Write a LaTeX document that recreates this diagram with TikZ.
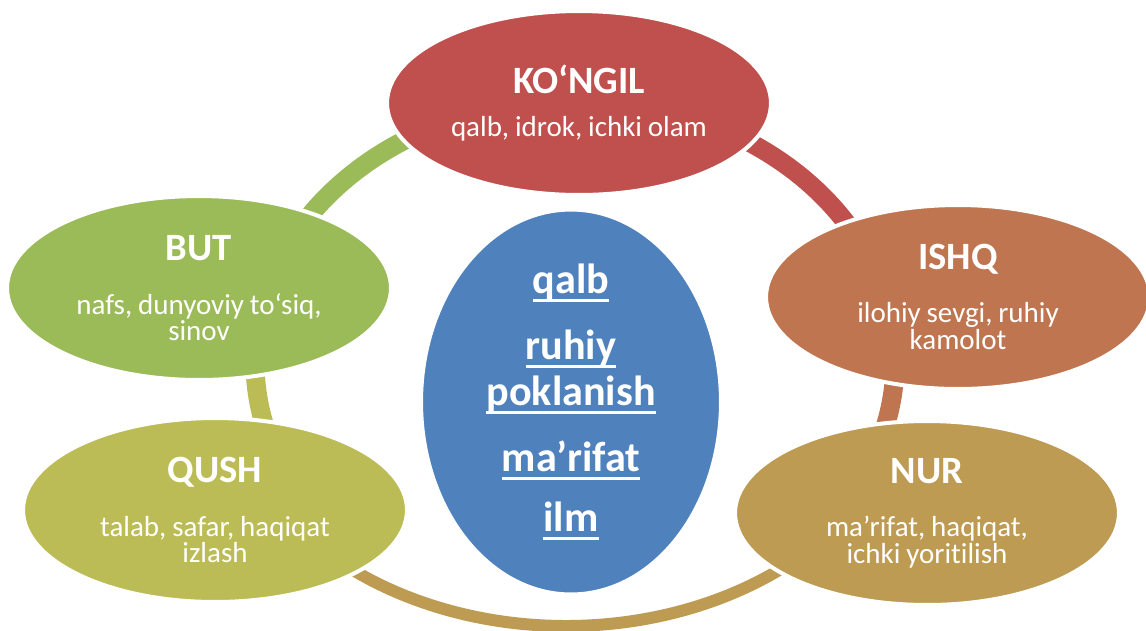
\documentclass[tikz,border=0pt]{standalone}
\usepackage{fontspec}
\setmainfont{Carlito}[Ligatures=NoCommon]
\usetikzlibrary{shapes.geometric}
\definecolor{cKong}{HTML}{C0504D}
\definecolor{cIshq}{HTML}{BF7650}
\definecolor{cNur}{HTML}{BD9B53}
\definecolor{cQush}{HTML}{BCBC56}
\definecolor{cBut}{HTML}{9BBB59}
\definecolor{cMid}{HTML}{4F81BD}
\newcommand\ttl{\fontsize{22}{26}\selectfont\bfseries}
\newcommand\sbt{\fontsize{16.5}{18.5}\selectfont\mdseries}
\newcommand\myul[1]{\leavevmode\setbox0=\hbox{#1}\rlap{\rule[-0.2em]{\wd0}{0.07em}}\box0}
% colour, cx, cy (px, downwards), rx, ry, half thickness, t1, t2 (screen degrees, clockwise)
\newcommand\ringarc[8]{%
  \fill[#1] ({#2+(#4+#6)*cos(#7)},{-#3-(#5+#6)*sin(#7)})
    arc[start angle={-(#7)}, end angle={-(#8)}, x radius={#4+#6}, y radius={#5+#6}]
    -- ({#2+(#4-#6)*cos(#8)},{-#3-(#5-#6)*sin(#8)})
    arc[start angle={-(#8)}, end angle={-(#7)}, x radius={#4-#6}, y radius={#5-#6}]
    -- cycle;}
\begin{document}
\begin{tikzpicture}[x=0.02cm,y=0.02cm,
  el/.style={ellipse, draw=white, line width=0.08cm, minimum width=7.68cm,
             minimum height=3.68cm, inner sep=0pt},
  txt/.style={text=white, align=center, inner sep=0pt, text width=7cm}]
\useasboundingbox[fill=white] (0,0) rectangle (1146,-630);
% ring segments (behind the ellipses)
\ringarc{cKong}{575}{362}{320}{262}{9.5}{-92}{-15}
\ringarc{cIshq}{575}{362}{320}{262}{9.5}{-15}{25}
\ringarc{cNur}{566}{362}{346}{264}{6}{40}{140}
\ringarc{cQush}{575}{362}{320}{262}{9.5}{150}{190}
\ringarc{cBut}{575}{362}{320}{262}{9.5}{190}{268}
% ellipses
\node[el, fill=cKong] (kongil) at (579,-103) {};
\node[el, fill=cIshq] (ishq) at (958,-297) {};
\node[el, fill=cNur] (nur) at (927,-513) {};
\node[el, fill=cQush] (qush) at (215,-510) {};
\node[el, fill=cBut] (but) at (199,-288) {};
\node[el, fill=cMid, minimum width=6cm, minimum height=7.7cm] (markaz) at (571,-402) {};
% texts
\node[txt] (kongil-t) at (kongil) {\ttl KO‘NGIL\par\vspace{12pt}\sbt qalb, idrok, ichki olam};
\node[txt] (ishq-t) at (ishq) {\ttl ISHQ\par\vspace{12pt}\sbt ilohiy sevgi, ruhiy\\ kamolot};
\node[txt] (nur-t) at (nur) {\ttl NUR\par\vspace{12pt}\sbt ma’rifat, haqiqat,\\ ichki yoritilish};
\node[txt] (qush-t) at (qush) {\ttl QUSH\par\vspace{12pt}\sbt talab, safar, haqiqat\\ izlash};
\node[txt] (but-t) at (but) {\ttl BUT\par\vspace{12pt}\sbt nafs, dunyoviy to‘siq,\\ sinov};
\node[txt, text width=5.5cm] (markaz-t) at (markaz) {\fontsize{24}{26.2}\selectfont\bfseries
  \myul{qalb}\par\vspace{11.5pt}\myul{ruhiy}\\ \myul{poklanish}\par\vspace{11.5pt}%
  \myul{ma’rifat}\par\vspace{11.5pt}\myul{ilm}};
\end{tikzpicture}
\end{document}
